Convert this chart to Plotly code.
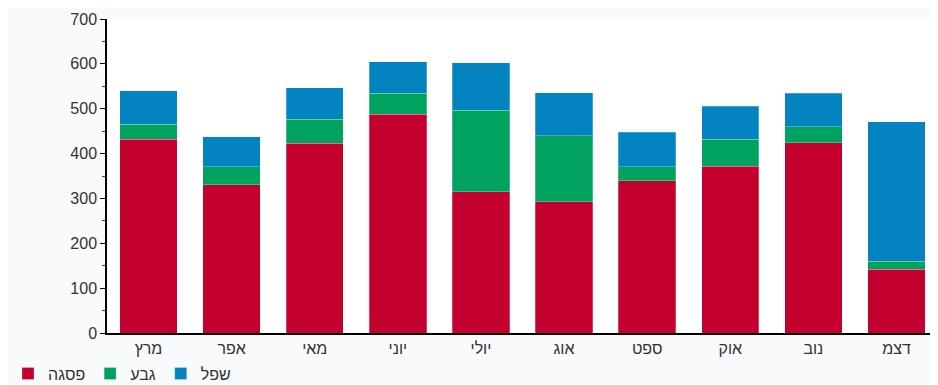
import plotly.graph_objects as go

months = ['מרץ', 'אפר', 'מאי', 'יוני', 'יולי', 'אוג', 'ספט', 'אוק', 'נוב', 'דצמ']
peak = [432, 331, 423, 488, 315, 293, 339, 372, 424, 142]      # פסגה
shoulder = [33, 40, 54, 47, 182, 147, 32, 60, 36, 18]          # גבע
low = [75, 66, 70, 70, 105, 96, 76, 74, 75, 311]               # שפל

series = [
    ('פסגה', peak, '#c4002f'),
    ('גבע', shoulder, '#00a260'),
    ('שפל', low, '#0383c0'),
]

fig = go.Figure()
for name, vals, color in series:
    fig.add_trace(go.Bar(
        x=months, y=vals, name=name,
        marker=dict(color=color, line=dict(color='rgba(255,255,255,0.5)', width=0.5))
    ))

# the page has an 8px body margin, so the figure is a bit smaller than the window
fig.update_layout(
    barmode='stack',
    bargap=0.31,
    width=930, height=377,
    margin=dict(l=99, r=0, t=11, b=52),
    paper_bgcolor='#f9fafc',
    plot_bgcolor='white',
    font=dict(family='Liberation Sans, Arial', size=16, color='#333333'),
    # legend placed in container coords so it does not push the margins
    legend=dict(orientation='h', xref='container', yref='container',
                x=0.0, xanchor='left', y=0.03, yanchor='middle',
                font=dict(size=16, color='#333333'), traceorder='normal',
                itemwidth=30, bgcolor='rgba(0,0,0,0)'),
    xaxis=dict(showline=True, linecolor='black', linewidth=1.5, ticks='',
               showgrid=False, tickfont=dict(size=16)),
    yaxis=dict(range=[0, 700], dtick=100, showline=True, linecolor='black', linewidth=1.5,
               ticks='outside', ticklen=5, tickcolor='black', showgrid=False, zeroline=False,
               tickfont=dict(size=16),
               minor=dict(dtick=50, ticks='outside', ticklen=3, tickcolor='red', showgrid=False)),
)

fig.write_html("out.html")
